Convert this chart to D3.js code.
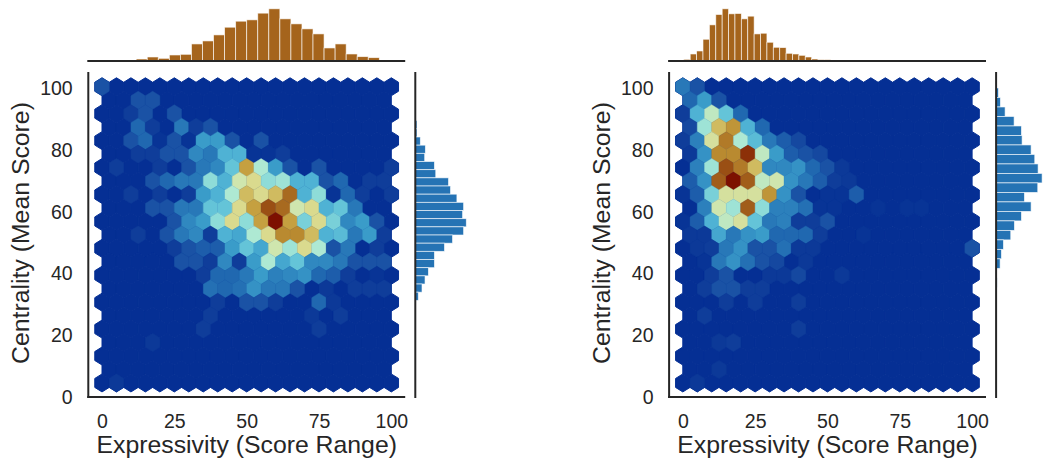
<!DOCTYPE html>
<html><head><meta charset="utf-8">
<script src="https://cdn.jsdelivr.net/npm/d3@7"></script>
<style>html,body{margin:0;background:#fff}svg{display:block}text{font-family:"Liberation Sans",Arial,sans-serif;fill:#262626}</style>
</head><body><svg id="c" width="1043" height="462"></svg>
<script>
// Hex intensities: one list per row, top row first; odd-index rows are the staggered rows.
const leftRows = [
 [3],
 [0,0,3,3],
 [0,0,2,3,0,3],
 [0,0,4,2,0,5,2,3],
 [0,0,3,4,1,3,1,7,7,3,0,3],
 [0,0,2,2,3,3,6,5,8,8,1,1,2],
 [0,2,0,0,2,0,3,5,6,9,15,11,7,3,0,3,0,0,0,0,2],
 [0,0,0,3,4,5,5,10,8,12,13,10,10.5,8,8,3,4,0,2,2],
 [0,0,2,0,2,0,2,7,8,11,14,13,14,17,8,10,1,4,2,0,2],
 [0,0,0,3,3,5,5,9,9,13,15,18,17,12,13,8,9,5],
 [0,0,0,0,0,3,6,7,10,13,10,15,20,15,9.5,13,9.5,6,7,3],
 [0,0,2,0,3,5,6,2,8,7.5,11,13,16,16,14,8,8.5,5,7,2],
 [0,0,0,0,0,2,3,3.5,3.5,7,9,7.5,12,10.5,13,11,3,5,0,2],
 [0,0,0,0,0,3,3,2,6,2,7,11,7.5,9,6,6,5,3,3,3],
 [0,0,0,0,0,0,0,2,4,4,5,7,5.5,6,6.5,4,3.5,2,0,1],
 [0,0,0,0,0,0,0,4.5,4,4.5,6.5,5,5,3,0,1.5,0,2,2,2],
 [0,0,0,0,0,0,0,0,2,0,3,3,2,0,0,4,1.5],
 [0,0,0,0,0,0,0,2,0,0,0,0,0,0,1.5,0,2],
 [0,0,0,0,0,0,0,2,0,0,0,0,0,0,0,2],
 [0,0,0,1.5],
 [],
 [],
 [0,1.5]
];
const rightRows = [
 [5,3],
 [4,7,3],
 [2,8,11.5,9,4],
 [2.5,10.5,14,15.5,8,4],
 [2,5.5,12.5,16.5,11,8.5,5,3.5,2.5],
 [1.5,6.5,16,16,19,11.5,7,3.5,3,2.5],
 [0,5.5,10.5,18,16.5,14,6,6,6.5,4,3,1.5],
 [3.5,6.5,17.5,20,17.5,11.5,12,6.5,5,3.5,2,1.5],
 [1,3.5,9.5,12.5,12.5,12.5,15.5,6.5,3,0,1,1,3.5],
 [0,5.5,12,10.5,17.5,10,5.5,5.5,4.5,1,1,0,0,1,0,1,1],
 [1,3.5,8,11.5,12.5,9,5,5.5,2,2,3],
 [1.5,1.5,7.5,5,6.5,7,4,4,4,2,0,0,1],
 [0,1.5,2,5,6.5,3,3,4.5,1.5,1.5,0,0,0,0,0,0,0,0,0,0,3],
 [0,1,5,6.5,4.5,3,2.5,0,1.5],
 [0,0,2,3,0,0,1.5,1.5,2.5,0,0,1.5],
 [0,2,3,3,2,2],
 [0,0,0,2,0,2,0,0,2],
 [0,2],
 [0,0,0,0,0,0,0,0,2],
 [0,0,1.5,2],
 [],
 [0,0,1.5],
 [0,1.5]
];
// Marginal histograms
const leftTopCounts = [2,6,12,8,18,20,51,60,78,101,119,123,143,156,126,111,96,81,39,51,21,13,10,2];
const rightTopCounts = [5,21,30,65,108,139,156,141,142,126,134,81,83,56,41,40,23,21,17,12,6,4,4,3];
const leftSideCounts = [5,5,15,30,28,57,61,99,105,124,144,141,152,144,111,87,57,57,39,29,20,9];
const rightSideCounts = [7,13,27,54,76,78,105,116,126,138,125,85,105,76,55,44,22,16,12,0,3];
const xTicks = [0,25,50,75,100];
const yTicks = [0,20,40,60,80,100];
const xLabel = "Expressivity (Score Range)";
const yLabel = "Centrality (Mean Score)";
const colorStops = ["#052f94","#083496","#0f3d9a","#1a52a5","#2068b0","#2878b8","#3088c0","#3a9cc9","#4fb2d4","#64c4d8","#8edcd8","#aee9d3","#cfe6ae","#dada8e","#d0bb60","#c5a040","#b98a30","#a86a20","#9a4f14","#8c3008","#7d1000"];

const color = d3.scaleLinear().domain(d3.range(colorStops.length)).range(colorStops).clamp(true);
const svg = d3.select("#c");
const INK = "#262626";

function panel(opt){
  const g = svg.append("g");
  const x = d3.scaleLinear().domain([0,100]).range([opt.x0, opt.x0+289.3]);
  const y = d3.scaleLinear().domain([0,100]).range([396.2, 88]);
  const dx = 5, dy = (100.4-4.3)/22, yTop = 100.4;
  const hw = Math.abs(x(dx)-x(0))/2;
  const hh = Math.abs(y(dy)-y(0))*2/3;
  const hexPath = (cx,cy)=> d3.line()([[cx,cy-hh],[cx+hw,cy-hh/2],[cx+hw,cy+hh/2],[cx,cy+hh],[cx-hw,cy+hh/2],[cx-hw,cy-hh/2]])+"Z";
  const cells = [];
  for(let r=0;r<23;r++){
    const n = r%2 ? 20 : 21;
    for(let c=0;c<n;c++){
      const v = (opt.rows[r] && opt.rows[r][c]) || 0;
      cells.push({vx:(r%2? dx/2:0)+c*dx, vy:yTop-r*dy, v});
    }
  }
  // base layer closes antialiasing seams between neighbouring hexes
  g.selectAll("path.base").data(cells).join("path").attr("class","base")
    .attr("d",d=>hexPath(x(d.vx),y(d.vy))).attr("fill",colorStops[0]).attr("stroke",colorStops[0]).attr("stroke-width",1);
  g.selectAll("path.hex").data(cells.filter(d=>d.v>0)).join("path").attr("class","hex")
    .attr("d",d=>hexPath(x(d.vx),y(d.vy))).attr("fill",d=>color(d.v)).attr("stroke",d=>color(d.v)).attr("stroke-width",0.4);

  // top marginal histogram
  const topH = d3.scaleLinear().domain([0,d3.max(opt.top)]).range([61,8.8]);
  g.selectAll("rect.t").data(opt.top).join("rect").attr("class","t")
    .attr("x",(d,i)=>x(opt.topStart+i*opt.topStep)).attr("width",x(opt.topStep)-x(0))
    .attr("y",d=>topH(d)).attr("height",d=>61-topH(d))
    .attr("fill","#a5641c").attr("stroke","#fff").attr("stroke-opacity",.75).attr("stroke-width",.8);

  // side marginal histogram
  const sideX = opt.x0+313.3;
  const sideW = d3.scaleLinear().domain([0,d3.max(opt.side)]).range([sideX,sideX+opt.sideLen]);
  g.selectAll("rect.s").data(opt.side).join("rect").attr("class","s")
    .attr("y",(d,i)=>y(opt.sideTop-i*opt.sideStep)).attr("height",y(0)-y(opt.sideStep))
    .attr("x",sideX).attr("width",d=>sideW(d)-sideX)
    .attr("fill","#2573b4").attr("stroke","#fff").attr("stroke-opacity",.75).attr("stroke-width",.8);

  // spines
  const L = opt.x0-13.7, R = opt.x0+303.2;
  const line=(a,b,c,d)=>g.append("line").attr("x1",a).attr("y1",b).attr("x2",c).attr("y2",d).attr("stroke",INK).attr("stroke-width",2);
  line(L,72,L,398); line(L-1,397,R,397);
  line(L-1,61,R,61);
  line(sideX,72,sideX,398);

  // axes (library axes, no tick marks or domain)
  const ax = d3.axisBottom(x).tickValues(xTicks).tickSize(0).tickPadding(0);
  const ay = d3.axisLeft(y).tickValues(yTicks).tickSize(0).tickPadding(0);
  const gx = g.append("g").attr("transform","translate(0,410)").call(ax);
  gx.select(".domain").remove();
  gx.selectAll("text").attr("font-size",19.5).attr("dy","0.9em").attr("fill",INK);
  const gy = g.append("g").attr("transform",`translate(${L-15.6},0)`).call(ay);
  gy.select(".domain").remove();
  gy.selectAll("text").attr("font-size",19.5).attr("dy","0.35em").attr("fill",INK);
  g.append("text").attr("x",(L+R)/2).attr("y",453).attr("text-anchor","middle").attr("font-size",24.8).text(xLabel);
  g.append("text").attr("transform",`translate(${L-59.5},233) rotate(-90)`).attr("text-anchor","middle").attr("font-size",24.8).text(yLabel);
}
panel({x0:102,rows:leftRows,top:leftTopCounts,topStart:8,topStep:3.82,side:leftSideCounts,sideTop:89.4,sideStep:2.65,sideLen:51});
panel({x0:682.8,rows:rightRows,top:rightTopCounts,topStart:0.35,topStep:2.21,side:rightSideCounts,sideTop:100,sideStep:3.08,sideLen:46});
</script></body></html>
